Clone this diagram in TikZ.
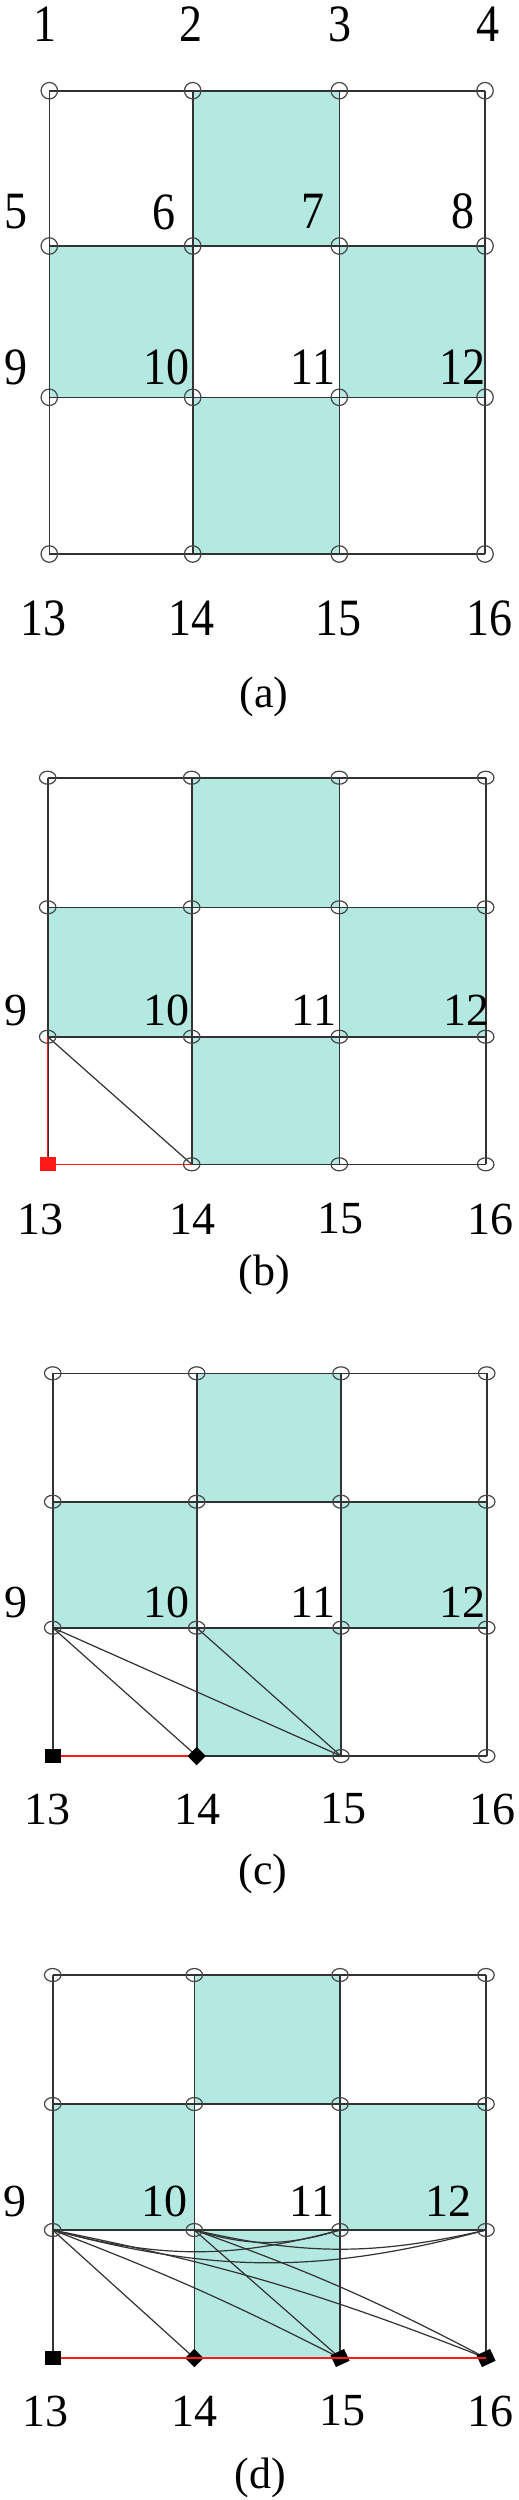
\documentclass[tikz,border=0pt]{standalone}
\usepackage{fontspec}
\setmainfont{Liberation Serif}
\newfontfamily\labelfont{Liberation Serif}
\usetikzlibrary{shapes.geometric}
\definecolor{cellfill}{RGB}{179,233,225}
\definecolor{gridc}{RGB}{50,50,50}
\definecolor{ringc}{RGB}{70,70,70}
\definecolor{redc}{RGB}{255,25,25}
\newcommand{\tallnum}[1]{\scalebox{1}[1.14]{#1}}
\tikzset{
  gridline/.style={draw=gridc,line width=1.6pt},
  diagline/.style={draw=gridc,line width=1.2pt},
  redline/.style={draw=redc,line width=1.5pt},
  vtxA/.style={circle,draw=ringc,line width=1.2pt,minimum size=16.5pt,inner sep=0pt},
  vtxB/.style={ellipse,draw=ringc,line width=1.2pt,minimum width=16.5pt,minimum height=13pt,inner sep=0pt},
  sqmark/.style={rectangle,fill=black,minimum width=16pt,minimum height=14pt,inner sep=0pt},
  dmdmark/.style={rectangle,fill=black,minimum width=13pt,minimum height=13pt,inner sep=0pt,rotate=45},
  tiltmark/.style={rectangle,fill=black,minimum width=15pt,minimum height=13pt,inner sep=0pt,rotate=25},
  num/.style={font=\labelfont\fontsize{46}{50}\selectfont,inner sep=0pt},
  capt/.style={font=\labelfont\fontsize{44}{48}\selectfont,inner sep=0pt}
}
\newcommand{\panelgrid}[9]{%
  \foreach \i/\xx in {1/#2,2/#3,3/#4,4/#5}{%
    \foreach \j/\yy in {0/#6,1/#7,2/#8,3/#9}{%
      \pgfmathtruncatemacro{\k}{\j*4+\i}%
      \coordinate (#1-\k) at (\xx,\yy);%
    }%
  }%
  \fill[cellfill] (#1-2) rectangle (#1-7);
  \fill[cellfill] (#1-5) rectangle (#1-10);
  \fill[cellfill] (#1-7) rectangle (#1-12);
  \fill[cellfill] (#1-10) rectangle (#1-15);
  \foreach \s/\e in {1/4,5/8,9/12,13/16,1/13,2/14,3/15,4/16}{\draw[gridline] (#1-\s) -- (#1-\e);}
}
\begin{document}
\begin{tikzpicture}[x=1pt,y=-1pt]
\useasboundingbox[fill=white] (0,0) rectangle (519,2500);

% ---------- panel (a)
\panelgrid{a}{49.3}{192.7}{339.3}{485}{90.7}{246}{397.3}{554}
\foreach \k in {1,...,16}{\node[vtxA] (an\k) at (a-\k) {};}
\foreach \t/\xx/\yy in {1/45/24,2/191/24,3/340/24,4/488/24,5/16/212,6/164/212,7/313/211,8/463/211,9/16/367,10/166/367,11/313/367,12/462/367,13/43/618,14/191/618,15/338/618,16/489/618}
  {\node[num] (la\t) at (\xx,\yy) {\tallnum{\t}};}
\node[capt] (capa) at (264,697) {(a)};

% ---------- panel (b)
\panelgrid{b}{47.7}{191.7}{339.3}{485.7}{777.7}{907.3}{1036.7}{1164.3}
\draw[diagline] (b-9) -- (b-14);
\draw[redline] (b-9) -- (b-13) -- (b-14);
\foreach \k in {1,...,12,14,15,16}{\node[vtxB] (bn\k) at (b-\k) {};}
\node[sqmark,fill=redc] (bn13) at (b-13) {};
\foreach \t/\xx/\yy in {9/16/1010,10/166/1010,11/314/1010,12/466/1010,13/40/1219,14/192/1219,15/340/1219,16/490/1219}
  {\node[num] (lb\t) at (\xx,\yy) {\t};}
\node[capt] (capb) at (264,1275) {(b)};

% ---------- panel (c)
\panelgrid{c}{52.7}{196.7}{341}{486.7}{1373.3}{1501.7}{1627.7}{1756}
\draw[diagline] (c-9) -- (c-14);
\draw[diagline] (c-9) -- (c-15);
\draw[diagline] (c-10) -- (c-15);
\draw[redline] (c-13) -- (c-14);
\foreach \k in {1,...,12,15,16}{\node[vtxB] (cn\k) at (c-\k) {};}
\node[sqmark] (cn13) at (c-13) {};
\node[dmdmark] (cn14) at (c-14) {};
\foreach \t/\xx/\yy in {9/16/1602,10/166/1602,11/313/1602,12/462/1602,13/47/1809,14/197/1809,15/343/1809,16/492/1809}
  {\node[num] (lc\t) at (\xx,\yy) {\t};}
\node[capt] (capc) at (263,1874) {(c)};

% ---------- panel (d)
\panelgrid{d}{52.7}{194.3}{340}{486}{1975}{2104}{2230}{2358}
\draw[gridline,line width=2.4pt] (d-9) -- (d-10);
\draw[diagline] (d-9) -- (d-14);
\draw[diagline] (d-9) to[bend left=3] (d-15);
\draw[diagline] (d-9) to[bend left=5] (d-16);
\draw[diagline] (d-10) -- (d-15);
\draw[diagline] (d-10) to[bend left=4] (d-16);
\draw[diagline] (d-9) to[bend right=15] (d-11);
\draw[diagline] (d-9) to[bend right=15] (d-12);
\draw[diagline] (d-10) to[bend right=17] (d-11);
\draw[diagline] (d-10) to[bend right=13] (d-12);
\foreach \k in {1,...,12}{\node[vtxB] (dn\k) at (d-\k) {};}
\node[sqmark] (dn13) at (d-13) {};
\node[dmdmark] (dn14) at (d-14) {};
\node[tiltmark] (dn15) at (d-15) {};
\node[tiltmark] (dn16) at (d-16) {};
\draw[redline] (dn13) -- (dn14.center) -- (dn15.center) -- (dn16.center);
\foreach \t/\xx/\yy in {9/15/2201,10/164/2201,11/312/2201,12/448/2201,13/46/2411,14/194/2411,15/342/2411,16/490/2411}
  {\node[num] (ld\t) at (\xx,\yy) {\t};}
\node[capt] (capd) at (260,2478) {(d)};
\end{tikzpicture}
\end{document}
